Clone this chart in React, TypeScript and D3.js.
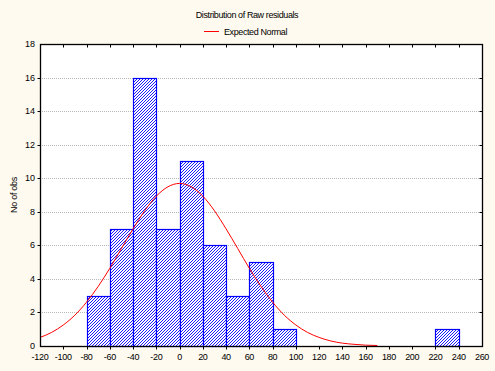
import React, { useRef, useEffect } from "react";
import * as d3 from "d3";

const width = 495;
const height = 371;
const margin = { top: 44, right: 13, bottom: 25, left: 40 };

// histogram bins (lower edge, upper edge, count)
const binStarts = [-80, -60, -40, -20, 0, 20, 40, 60, 80, 220];
const binEnds = [-60, -40, -20, 0, 20, 40, 60, 80, 100, 240];
const binCounts = [3, 7, 16, 7, 11, 6, 3, 5, 1, 1];

// expected normal curve
const curveX = [-120, -110, -100, -90, -80, -70, -60, -50, -40, -30, -20, -10, 0, 10, 20, 30, 40, 50, 60, 70, 80, 90, 100, 110, 120, 130, 140, 150, 160, 170];
const curveY = [0.51, 0.81, 1.25, 1.84, 2.61, 3.55, 4.63, 5.81, 6.98, 8.06, 8.93, 9.49, 9.69, 9.49, 8.93, 8.06, 6.98, 5.81, 4.63, 3.55, 2.61, 1.84, 1.25, 0.81, 0.51, 0.3, 0.17, 0.1, 0.05, 0.03];

const xTicks = [-120, -100, -80, -60, -40, -20, 0, 20, 40, 60, 80, 100, 120, 140, 160, 180, 200, 220, 240, 260];
const yTicks = [0, 2, 4, 6, 8, 10, 12, 14, 16, 18];

const font = "'Liberation Sans', Arial, sans-serif";

const App = () => {
  const ref = useRef<SVGSVGElement>(null);

  useEffect(() => {
    const svg = d3.select(ref.current);
    svg.selectAll("*").remove();

    const x = d3.scaleLinear().domain([-120, 260]).range([margin.left, width - margin.right]);
    const y = d3.scaleLinear().domain([0, 18]).range([height - margin.bottom, margin.top]);

    svg.append("rect").attr("width", width).attr("height", height).attr("fill", "#fffaef");

    const defs = svg.append("defs");
    const pat = defs
      .append("pattern")
      .attr("id", "hatch")
      .attr("patternUnits", "userSpaceOnUse")
      .attr("width", 3)
      .attr("height", 3);
    pat.append("rect").attr("width", 3).attr("height", 3).attr("fill", "#fff");
    pat
      .append("path")
      .attr("d", "M-1,1 L1,-1 M0,3 L3,0 M2,4 L4,2")
      .attr("stroke", "#0000ff")
      .attr("stroke-width", 0.9);

    // plot area
    svg
      .append("rect")
      .attr("x", x(-120))
      .attr("y", y(18))
      .attr("width", x(260) - x(-120))
      .attr("height", y(0) - y(18))
      .attr("fill", "#fff");

    // gridlines
    svg
      .selectAll(".grid")
      .data(yTicks.filter(d => d > 0 && d < 18))
      .enter()
      .append("line")
      .attr("x1", x(-120))
      .attr("x2", x(260))
      .attr("y1", d => Math.round(y(d)) + 0.5)
      .attr("y2", d => Math.round(y(d)) + 0.5)
      .attr("stroke", "#b8b8b8")
      .attr("stroke-dasharray", "1,1");

    // bars
    svg
      .selectAll(".bar")
      .data(binCounts)
      .enter()
      .append("rect")
      .attr("x", (d, i) => Math.round(x(binStarts[i])) + 0.5)
      .attr("y", d => Math.round(y(d)) + 0.5)
      .attr("width", (d, i) => Math.round(x(binEnds[i])) - Math.round(x(binStarts[i])))
      .attr("height", d => Math.round(y(0)) - Math.round(y(d)))
      .attr("fill", "url(#hatch)")
      .attr("stroke", "#0000ff")
      .attr("stroke-width", 1.2);

    // normal curve
    const line = d3
      .line<number>()
      .x((d, i) => x(curveX[i]))
      .y(d => y(d))
      .curve(d3.curveMonotoneX);
    svg
      .append("path")
      .attr("d", line(curveY))
      .attr("fill", "none")
      .attr("stroke", "#ff0000")
      .attr("stroke-width", 1);

    // frame
    const x0 = Math.round(x(-120)) + 0.5;
    const x1 = Math.round(x(260)) + 0.5;
    const yTop = Math.round(y(18)) + 0.5;
    const yBot = Math.round(y(0)) + 0.5;
    svg
      .append("rect")
      .attr("x", x0)
      .attr("y", yTop)
      .attr("width", x1 - x0)
      .attr("height", yBot - yTop)
      .attr("fill", "none")
      .attr("stroke", "#000")
      .attr("stroke-width", 1.3);

    // x ticks: bottom outward, top inward
    svg
      .selectAll(".xt")
      .data(xTicks.slice(1, -1))
      .enter()
      .append("path")
      .attr("d", d => {
        const px = Math.round(x(d)) + 0.5;
        return `M${px},${yBot}v3M${px},${yTop}v3`;
      })
      .attr("stroke", "#000");

    // y ticks: left outward, right inward
    svg
      .selectAll(".yt")
      .data(yTicks.slice(1, -1))
      .enter()
      .append("path")
      .attr("d", d => {
        const py = Math.round(y(d)) + 0.5;
        return `M${x0},${py}h-3M${x1},${py}h-3`;
      })
      .attr("stroke", "#000");

    svg
      .selectAll(".xl")
      .data(xTicks)
      .enter()
      .append("text")
      .attr("x", d => x(d))
      .attr("y", height - 11)
      .attr("text-anchor", "middle")
      .style("font-family", font)
      .style("font-size", "9px")
      .style("letter-spacing", "-0.3px")
      .attr("fill", "#000")
      .text(d => d);

    svg
      .selectAll(".yl")
      .data(yTicks)
      .enter()
      .append("text")
      .attr("x", margin.left - 5)
      .attr("y", d => y(d) + 3)
      .attr("text-anchor", "end")
      .style("font-family", font)
      .style("font-size", "9px")
      .attr("fill", "#000")
      .text(d => d);

    svg
      .append("text")
      .attr("transform", `translate(17,${(y(0) + y(18)) / 2}) rotate(-90)`)
      .attr("text-anchor", "middle")
      .style("font-family", font)
      .style("font-size", "9px")
      .style("letter-spacing", "-0.3px")
      .attr("fill", "#000")
      .text("No of obs");

    // title + legend
    svg
      .append("text")
      .attr("x", 247)
      .attr("y", 18)
      .attr("text-anchor", "middle")
      .style("font-family", font)
      .style("font-size", "9px")
      .style("letter-spacing", "-0.4px")
      .attr("fill", "#000")
      .text("Distribution of Raw residuals");

    svg
      .append("line")
      .attr("x1", 204)
      .attr("x2", 219)
      .attr("y1", 31.5)
      .attr("y2", 31.5)
      .attr("stroke", "#ff0000");
    svg
      .append("text")
      .attr("x", 224)
      .attr("y", 35)
      .style("font-family", font)
      .style("font-size", "9px")
      .style("letter-spacing", "-0.4px")
      .attr("fill", "#000")
      .text("Expected Normal");
  }, []);

  return (
    <div style={{ position: "absolute", left: 0, top: 0 }}>
      <svg ref={ref} width={width} height={height} style={{ display: "block" }} />
    </div>
  );
};

export default App;
